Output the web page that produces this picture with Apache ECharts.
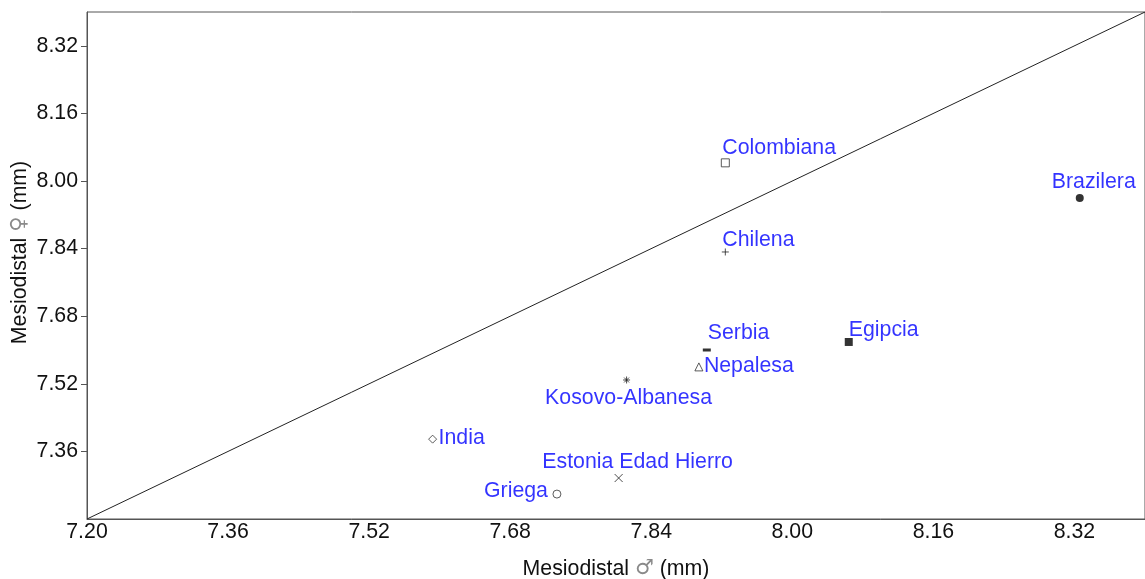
<!DOCTYPE html>
<html>
<head>
<meta charset="utf-8">
<script src="https://cdn.jsdelivr.net/npm/echarts@6/dist/echarts.min.js"></script>
<style>
html,body{margin:0;padding:0;background:#fff;}
#c{width:1145px;height:579px;}
</style>
</head>
<body>
<div id="c"></div>
<script>
// ---- data ----
const groups = ['Colombiana','Chilena','Brazilera','Egipcia','Serbia','Nepalesa','Kosovo-Albanesa','India','Estonia Edad Hierro','Griega'];
const maleMD   = [7.924, 7.924, 8.326, 8.064, 7.903, 7.894, 7.812, 7.592, 7.803, 7.733];
const femaleMD = [8.043, 7.832, 7.960, 7.619, 7.600, 7.560, 7.529, 7.389, 7.297, 7.259];
const axisMin = 7.20, axisMax = 8.40, axisStep = 0.16;
const equalityLine = [[7.20, 7.20], [8.40, 8.40]];
const xName = ['Mesiodistal ', '♂', ' (mm)'];
const yName = ['Mesiodistal ', '♀', ' (mm)'];

// ---- styles per group (marker + label placement) ----
const P_PLUS = 'path://M5,0L5,10M0,5L10,5';
const P_X = 'path://M0,0L10,10M10,0L0,10';
const P_AST = 'path://M5,0L5,10M0,5L10,5M1.5,1.5L8.5,8.5M8.5,1.5L1.5,8.5';
const hollow = {color:'#fff', borderColor:'#333', borderWidth:1};
const solid = {color:'#000', borderWidth:0};
const stroke = {color:'transparent', borderColor:'#222', borderWidth:1};
const styles = {
  'Colombiana':          {symbol:'rect', size:8, item:hollow, align:'left', off:[-3,-15]},
  'Chilena':             {symbol:P_PLUS, size:7, item:stroke, align:'left', off:[-3,-12]},
  'Brazilera':           {symbol:'circle', size:8, item:solid, align:'left', off:[-28,-16]},
  'Egipcia':             {symbol:'rect', size:8, item:solid, align:'left', off:[0,-12]},
  'Serbia':              {symbol:'rect', size:[8,3], item:solid, align:'left', off:[1,-17]},
  'Nepalesa':            {symbol:'triangle', size:8, item:hollow, align:'left', off:[5,-1]},
  'Kosovo-Albanesa':     {symbol:P_AST, size:7, item:stroke, align:'center', off:[2,18]},
  'India':               {symbol:'diamond', size:8, item:hollow, align:'left', off:[6,-1]},
  'Estonia Edad Hierro': {symbol:P_X, size:8, item:stroke, align:'center', off:[19,-16]},
  'Griega':              {symbol:'circle', size:8, item:hollow, align:'right', off:[-9,-3]}
};

const FONT = 'Liberation Sans, Arial, sans-serif';
const FS = 21.3;
const pts = groups.map((g, i) => {
  const s = styles[g];
  return {
    name: g,
    value: [maleMD[i], femaleMD[i]],
    symbol: s.symbol,
    symbolSize: s.size,
    itemStyle: s.item,
    label: {
      show: true,
      formatter: g,
      position: 'inside',
      align: s.align,
      verticalAlign: 'middle',
      offset: s.off,
      color: '#0000ff',
      fontSize: FS,
      fontFamily: FONT,
      textBorderWidth: 0
    }
  };
});

const nameRich = {
  sym: {fontFamily: '"DejaVu Sans"', fontSize: 21, lineHeight: 24, color: '#8a8a8a', fontWeight: 'normal'}
};
function nameText(parts) { return parts[0] + '{sym|' + parts[1] + '}' + parts[2]; }

const chart = echarts.init(document.getElementById('c'), null, {renderer:'canvas'});
chart.setOption({
  animation: false,
  backgroundColor: '#fff',
  grid: {left: 87, right: 0, top: 12, bottom: 60, show: true, borderColor: '#555', borderWidth: 1,
         containLabel: false, outerBoundsMode: 'none'},
  xAxis: {
    type: 'value', min: axisMin, max: axisMax, interval: axisStep,
    name: nameText(xName), nameLocation: 'middle', nameGap: 38,
    nameTextStyle: {fontSize: FS, color: '#111', fontFamily: FONT, lineHeight: 24, rich: nameRich},
    axisLine: {show: true, lineStyle: {color: '#555', width: 1}},
    axisTick: {show: false},
    splitLine: {show: false},
    axisLabel: {fontSize: FS, color: '#111', fontFamily: FONT, margin: 3, showMaxLabel: false,
      formatter: v => v.toFixed(2)}
  },
  yAxis: {
    type: 'value', min: axisMin, max: axisMax, interval: axisStep,
    name: nameText(yName), nameLocation: 'middle', nameGap: 55, nameMoveOverlap: false,
    nameTextStyle: {fontSize: FS, color: '#111', fontFamily: FONT, lineHeight: 24, padding: [0, 0, 0, 26], rich: nameRich},
    axisLine: {show: true, lineStyle: {color: '#555', width: 1}},
    axisTick: {show: true, length: 6, lineStyle: {color: '#555'}},
    splitLine: {show: false},
    axisLabel: {fontSize: FS, color: '#111', fontFamily: FONT, margin: 9, showMinLabel: false, showMaxLabel: false,
      formatter: v => v.toFixed(2)}
  },
  series: [
    {type: 'line', data: equalityLine, showSymbol: false, symbol: 'none', silent: true,
     lineStyle: {color: '#222', width: 1}, z: 1},
    {type: 'scatter', data: pts, z: 3}
  ]
});
</script>
</body>
</html>
